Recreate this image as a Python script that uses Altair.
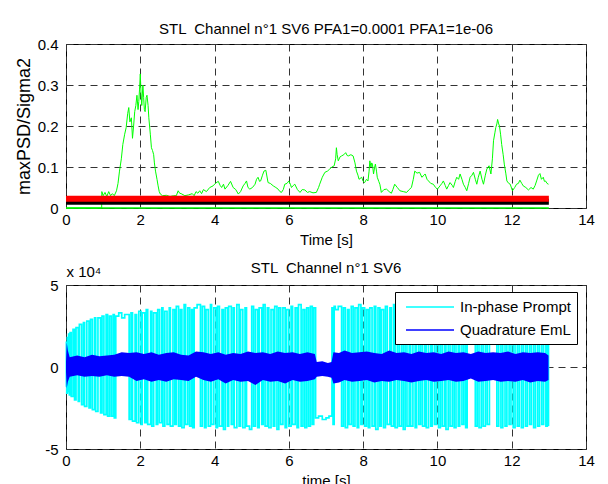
import altair as alt
import pandas as pd

FONT = "Liberation Sans"

# ---------------- top panel data ----------------
psd_pts = [
    (0, 0), (0.96, 0), (0.965, 0.04), (1.0, 0.03), (1.05, 0.038), (1.1, 0.028), (1.15, 0.04),
    (1.2, 0.03), (1.25, 0.035), (1.3, 0.03), (1.36, 0.042), (1.4, 0.06), (1.44, 0.09), (1.49, 0.12),
    (1.53, 0.155), (1.58, 0.18), (1.62, 0.196), (1.66, 0.23), (1.69, 0.245), (1.72, 0.21), (1.76, 0.22),
    (1.79, 0.17), (1.82, 0.2), (1.85, 0.235), (1.88, 0.25), (1.91, 0.275), (1.94, 0.24), (1.96, 0.26),
    (1.98, 0.29), (2.0, 0.327), (2.02, 0.28), (2.04, 0.25), (2.07, 0.30), (2.09, 0.27), (2.11, 0.24),
    (2.13, 0.235), (2.16, 0.27), (2.18, 0.275), (2.21, 0.25), (2.23, 0.22), (2.27, 0.18), (2.3, 0.147),
    (2.33, 0.14), (2.36, 0.13), (2.38, 0.11), (2.41, 0.09), (2.45, 0.07), (2.48, 0.054), (2.51, 0.04),
    (2.54, 0.034), (2.6, 0.03), (2.7, 0.031), (2.8, 0.028), (2.9, 0.03), (2.97, 0.03), (3.02, 0.042),
    (3.06, 0.036), (3.1, 0.035), (3.2, 0.03), (3.3, 0.032), (3.4, 0.035), (3.45, 0.03), (3.5, 0.04),
    (3.55, 0.036), (3.6, 0.042), (3.65, 0.035), (3.7, 0.045), (3.78, 0.04), (3.87, 0.05), (3.96, 0.054),
    (4.02, 0.06), (4.1, 0.065), (4.15, 0.055), (4.19, 0.05), (4.24, 0.058), (4.28, 0.046), (4.36, 0.055),
    (4.43, 0.065), (4.5, 0.05), (4.57, 0.045), (4.64, 0.034), (4.7, 0.04), (4.77, 0.054), (4.82, 0.06),
    (4.86, 0.066), (4.9, 0.05), (4.95, 0.046), (5.02, 0.05), (5.09, 0.058), (5.13, 0.07), (5.17, 0.075),
    (5.21, 0.065), (5.24, 0.066), (5.29, 0.08), (5.33, 0.09), (5.38, 0.092), (5.44, 0.062), (5.5, 0.06),
    (5.58, 0.054), (5.65, 0.05), (5.71, 0.046), (5.76, 0.04), (5.8, 0.038), (5.85, 0.045), (5.89, 0.058),
    (5.95, 0.06), (6.0, 0.066), (6.04, 0.058), (6.07, 0.05), (6.12, 0.055), (6.16, 0.058), (6.23, 0.045),
    (6.3, 0.038), (6.36, 0.045), (6.43, 0.044), (6.5, 0.038), (6.56, 0.04), (6.65, 0.037), (6.74, 0.038),
    (6.8, 0.05), (6.83, 0.058), (6.9, 0.075), (6.97, 0.087), (7.04, 0.09), (7.1, 0.095), (7.16, 0.1),
    (7.22, 0.103), (7.26, 0.12), (7.28, 0.147), (7.3, 0.13), (7.33, 0.115), (7.38, 0.125), (7.42, 0.127),
    (7.48, 0.13), (7.53, 0.135), (7.57, 0.128), (7.6, 0.127), (7.67, 0.13), (7.73, 0.127), (7.78, 0.11),
    (7.82, 0.09), (7.86, 0.08), (7.89, 0.07), (7.96, 0.075), (8.0, 0.065), (8.04, 0.062), (8.09, 0.07),
    (8.13, 0.066), (8.16, 0.09), (8.18, 0.115), (8.21, 0.1), (8.23, 0.11), (8.25, 0.107), (8.28, 0.083),
    (8.31, 0.1), (8.33, 0.107), (8.36, 0.09), (8.38, 0.075), (8.42, 0.065), (8.45, 0.058), (8.49, 0.038),
    (8.56, 0.045), (8.63, 0.046), (8.7, 0.04), (8.76, 0.036), (8.8, 0.045), (8.85, 0.058), (8.92, 0.05),
    (8.99, 0.042), (9.08, 0.04), (9.17, 0.038), (9.24, 0.045), (9.3, 0.05), (9.35, 0.07), (9.39, 0.09),
    (9.45, 0.085), (9.52, 0.087), (9.58, 0.075), (9.64, 0.08), (9.67, 0.083), (9.72, 0.07), (9.76, 0.066),
    (9.82, 0.06), (9.89, 0.058), (9.95, 0.05), (10.0, 0.046), (10.07, 0.054), (10.12, 0.06), (10.16, 0.066),
    (10.21, 0.055), (10.25, 0.046), (10.3, 0.055), (10.34, 0.062), (10.4, 0.055), (10.43, 0.05),
    (10.48, 0.065), (10.52, 0.075), (10.57, 0.07), (10.61, 0.083), (10.66, 0.07), (10.7, 0.058),
    (10.75, 0.05), (10.79, 0.042), (10.84, 0.06), (10.88, 0.075), (10.93, 0.08), (10.97, 0.087),
    (11.02, 0.07), (11.06, 0.058), (11.1, 0.075), (11.15, 0.09), (11.2, 0.07), (11.24, 0.058),
    (11.29, 0.08), (11.33, 0.095), (11.39, 0.103), (11.44, 0.083), (11.48, 0.12), (11.51, 0.164),
    (11.55, 0.185), (11.57, 0.196), (11.6, 0.205), (11.62, 0.216), (11.65, 0.205), (11.67, 0.2),
    (11.7, 0.18), (11.73, 0.155), (11.77, 0.13), (11.8, 0.107), (11.84, 0.085), (11.87, 0.066),
    (11.92, 0.06), (11.96, 0.058), (12.02, 0.042), (12.08, 0.05), (12.13, 0.058), (12.18, 0.06),
    (12.22, 0.068), (12.27, 0.06), (12.31, 0.054), (12.38, 0.05), (12.45, 0.044), (12.52, 0.05),
    (12.58, 0.046), (12.63, 0.055), (12.67, 0.066), (12.72, 0.08), (12.76, 0.084), (12.8, 0.07),
    (12.85, 0.075), (12.88, 0.065), (12.91, 0.066), (12.95, 0.06), (12.99, 0.058),
]
line_t = [0, 13]
thr_red = [0.0225, 0.0225]
thr_black = [0.015, 0.015]
detect_flag = [0, 0]

# ---------------- bottom panel data (units of 1e4) ----------------
inphase = [
    (0.00, -1.2), (0.01, 1.5), (0.02, -1.6), (0.035, 1.8), (0.05, -1.5), (0.07, 2.0), (0.09, -1.7), (0.11, 2.1),
    (0.14, -1.8), (0.19, 2.3), (0.23, -2.0), (0.27, 2.4), (0.33, -2.1), (0.36, 2.6), (0.42, -2.3), (0.47, 2.7),
    (0.50, -2.4), (0.56, 2.8), (0.62, -2.5), (0.66, 2.9), (0.71, -2.6), (0.77, 3.0), (0.80, -2.7), (0.86, 3.0),
    (0.93, -2.8), (0.97, 3.1), (1.02, -2.9), (1.08, 3.2), (1.12, -3.0), (1.17, 3.1), (1.22, -3.0), (1.27, 3.2),
    (1.30, -3.1), (1.34, 3.1), (1.42, 3.3), (1.5, 3.0), (1.58, 3.2),
    (1.70, -3.2), (1.75, 3.3), (1.79, -3.3), (1.86, 3.2), (1.9, -3.4), (1.96, 3.4), (2.02, -3.5), (2.05, 3.3),
    (2.12, -3.4), (2.16, 3.5), (2.2, -3.5), (2.28, 3.4), (2.31, -3.6), (2.36, 3.3), (2.43, -3.5), (2.47, 3.5),
    (2.52, -3.4), (2.58, 3.6), (2.61, -3.6), (2.66, 3.4), (2.72, -3.5), (2.78, 3.6), (2.81, -3.6), (2.88, 3.5),
    (2.93, -3.5), (2.97, 3.7), (3.03, -3.6), (3.08, 3.5), (3.12, -3.7), (3.18, 3.8), (3.22, -3.5), (3.28, 3.6),
    (3.33, -3.6), (3.38, 3.5), (3.41, -3.7), (3.45, 3.6), (3.53, 3.8),
    (3.62, -3.6), (3.67, 3.7), (3.73, -3.7), (3.77, 3.5), (3.83, -3.6), (3.89, 3.8), (3.92, -3.5), (3.98, 3.6),
    (4.04, -3.7), (4.08, 3.7), (4.13, -3.6), (4.2, 3.5), (4.24, -3.8), (4.29, 3.6), (4.35, -3.6), (4.38, 3.7),
    (4.45, -3.5), (4.5, 3.6), (4.53, -3.7), (4.6, 3.8), (4.66, -3.6), (4.7, 3.5), (4.76, -3.7), (4.82, 3.6),
    (4.86, -3.6), (4.94, -3.8),
    (5.0, 3.7), (5.05, -3.6), (5.1, 3.5), (5.16, -3.7), (5.2, 3.6), (5.27, -3.5), (5.31, 3.8), (5.36, -3.6),
    (5.42, 3.6), (5.46, -3.7), (5.52, 3.5), (5.58, -3.6), (5.62, 3.7), (5.68, -3.8), (5.73, 3.6), (5.78, -3.5),
    (5.84, 3.6), (5.9, -3.7), (5.94, 3.5), (6.0, -3.6), (6.06, 3.7), (6.1, -3.5), (6.17, 3.6), (6.22, -3.7),
    (6.26, 3.8), (6.33, -3.6), (6.38, 3.5), (6.43, -3.7), (6.48, 3.6), (6.53, -3.6), (6.58, 3.7), (6.63, -3.5),
    (6.67, 3.6),
    (6.72, -3.1), (6.8, -3.0), (6.9, -3.2), (7.0, -3.1), (7.08, -3.0),
    (7.16, 3.6), (7.19, -3.5), (7.22, 3.7), (7.25, 3.5), (7.33, 3.7),
    (7.42, -3.6), (7.47, 3.6), (7.52, -3.7), (7.58, 3.5), (7.62, -3.5), (7.68, 3.7), (7.73, -3.6), (7.78, 3.6),
    (7.84, -3.7), (7.88, 3.8), (7.94, -3.5), (7.98, 3.6), (8.04, -3.6), (8.09, 3.5), (8.14, -3.7), (8.18, 3.6),
    (8.24, -3.6), (8.3, 3.7), (8.34, -3.8), (8.4, 3.6), (8.45, -3.6), (8.49, 3.5), (8.55, -3.7), (8.6, 3.7),
    (8.65, -3.5), (8.72, 3.6), (8.76, -3.6), (8.82, 3.8), (8.86, -3.7), (8.92, 3.5), (8.97, -3.6), (9.03, 3.6),
    (9.08, -3.8), (9.13, 3.7), (9.18, -3.6), (9.24, 3.5), (9.28, -3.6), (9.34, 3.6), (9.4, -3.7), (9.44, 3.7),
    (9.5, -3.5), (9.55, 3.6), (9.6, -3.6), (9.66, 3.5), (9.7, -3.7), (9.76, 3.6), (9.82, -3.6), (9.86, 3.7),
    (9.92, -3.5), (9.97, 3.6), (10.03, -3.7), (10.08, 3.5), (10.13, -3.6), (10.19, 3.7), (10.23, -3.8),
    (10.29, 3.6), (10.34, -3.6), (10.4, 3.5), (10.45, -3.7), (10.5, 3.6), (10.56, -3.6), (10.6, 3.7),
    (10.66, -3.5), (10.71, 3.6), (10.76, -3.7),
    (10.8, 3.6), (10.9, 3.4),
    (11.02, -3.6), (11.07, 3.5), (11.12, -3.7), (11.18, 3.6), (11.23, -3.6), (11.29, 3.7), (11.34, -3.5),
    (11.4, 3.6), (11.5, 3.5),
    (11.6, -3.6), (11.65, 3.6), (11.71, -3.7), (11.76, 3.5), (11.82, -3.6), (11.87, 3.7), (11.93, -3.5),
    (11.98, 3.6), (12.04, -3.7), (12.09, 3.6), (12.15, -3.6), (12.2, 3.5), (12.26, -3.7), (12.31, 3.6),
    (12.37, -3.6), (12.42, 3.7), (12.48, -3.5), (12.53, 3.6), (12.59, -3.7), (12.64, 3.5), (12.7, -3.6),
    (12.75, 3.6), (12.81, -3.5), (12.86, 3.7), (12.92, -3.6), (12.96, 3.5), (12.99, -3.6),
]
quadrature = [  # (t, upper edge, lower edge)
    (0.00, 0.3, -0.3), (0.02, 1.5, -1.3), (0.05, 1.0, -0.9), (0.1, 0.6, -0.6), (0.3, 0.7, -0.5),
    (0.5, 0.6, -0.6), (0.7, 0.75, -0.55), (0.9, 0.65, -0.6), (1.1, 0.7, -0.5), (1.3, 0.75, -0.6),
    (1.5, 0.9, -0.55), (1.7, 0.85, -0.6), (1.9, 0.9, -0.85), (2.1, 0.8, -0.75), (2.3, 0.9, -0.9),
    (2.5, 0.75, -0.8), (2.7, 0.85, -0.9), (2.9, 0.9, -0.75), (3.1, 0.75, -0.8), (3.3, 0.7, -0.85),
    (3.5, 0.95, -0.6), (3.7, 0.9, -0.8), (3.9, 0.8, -0.9), (4.1, 0.9, -0.75), (4.3, 0.75, -1.0),
    (4.5, 0.85, -0.8), (4.7, 0.8, -0.9), (4.9, 0.95, -0.85), (5.1, 0.85, -1.1), (5.3, 0.9, -0.8),
    (5.5, 0.8, -0.9), (5.7, 0.95, -0.85), (5.9, 0.85, -1.0), (6.1, 0.9, -0.8), (6.3, 0.8, -0.9),
    (6.5, 0.9, -0.85), (6.7, 0.8, -0.75), (6.75, 0.3, -0.6), (6.9, 0.35, -0.55), (7.05, 0.25, -0.6),
    (7.15, 0.3, -0.65), (7.2, 0.9, -1.0), (7.35, 0.85, -0.95), (7.5, 1.0, -0.8), (7.7, 0.85, -0.9),
    (7.9, 0.9, -0.85), (8.1, 0.95, -0.8), (8.3, 0.85, -0.95), (8.5, 0.8, -0.85), (8.7, 1.0, -0.9),
    (8.9, 0.85, -0.8), (9.1, 0.9, -0.85), (9.3, 0.8, -0.95), (9.5, 0.95, -0.85), (9.7, 0.85, -0.8),
    (9.9, 0.9, -0.9), (10.1, 0.8, -0.85), (10.3, 0.95, -0.8), (10.5, 0.85, -0.9), (10.7, 0.9, -0.85),
    (10.9, 0.8, -0.7), (11.1, 0.95, -0.9), (11.3, 0.85, -0.85), (11.5, 0.9, -0.8), (11.7, 0.85, -0.9),
    (11.9, 0.95, -0.85), (12.1, 0.8, -0.9), (12.3, 0.9, -0.8), (12.5, 0.85, -0.95), (12.7, 0.9, -0.85),
    (12.9, 0.85, -0.9), (12.99, 0.7, -0.8),
]
series_names = ["In-phase Prompt", "Quadrature EmL"]
series_colors = ["#00ffff", "#0000ff"]

x_ticks = [0, 2, 4, 6, 8, 10, 12, 14]
top_y_ticks = [0, 0.1, 0.2, 0.3, 0.4]
bot_y_ticks = [-5, 0, 5]

W, H = 520, 164
GRID = dict(grid=True, gridDash=[7, 5], gridColor="#333333", gridWidth=1)


def x_enc(title):
    return alt.X("t:Q", scale=alt.Scale(domain=[0, 14], nice=False, zero=False),
                 axis=alt.Axis(values=x_ticks, title=title, tickSize=0, domain=False,
                               labelPadding=4, titlePadding=5, labelFlush=False,
                               labelOverlap=False, **GRID))


# ---------------- top panel ----------------
psd_df = pd.DataFrame(psd_pts, columns=["t", "v"])
red_df = pd.DataFrame({"t": line_t, "v": thr_red})
blk_df = pd.DataFrame({"t": line_t, "v": thr_black})
flag_df = pd.DataFrame({"t": line_t, "v": detect_flag})

y_top = alt.Y("v:Q", scale=alt.Scale(domain=[0, 0.4], nice=False),
              axis=alt.Axis(values=top_y_ticks, title="maxPSD/Sigma2", titleFontSize=18,
                            tickSize=0, domain=False, labelPadding=8, titlePadding=4,
                            labelExpr="'' + datum.value", labelFlush=False, **GRID))
xt = x_enc("Time [s]")

top = alt.layer(
    alt.Chart(psd_df).mark_line(color="#00ff00", strokeWidth=1).encode(x=xt, y=y_top),
    alt.Chart(flag_df).mark_line(color="#00ff00", strokeWidth=1.5).encode(x=xt, y=y_top),
    alt.Chart(blk_df).mark_line(color="#000000", strokeWidth=6).encode(x=xt, y=y_top),
    alt.Chart(red_df).mark_line(color="#ff0000", strokeWidth=6).encode(x=xt, y=y_top),
).properties(width=W, height=H,
             title=alt.TitleParams("STL \u00a0Channel n°1 SV6 PFA1=0.0001 PFA1=1e-06", offset=0))

# ---------------- bottom panel ----------------
ip_df = pd.DataFrame(inphase, columns=["t", "v"])
ip_df["series"] = series_names[0]
q_df = pd.DataFrame(quadrature, columns=["t", "hi", "lo"])

y_axis_bot = alt.Axis(values=bot_y_ticks, title="x 10⁴", titleAngle=0, titleAlign="left",
                      titleBaseline="alphabetic", titleX=0, titleY=-9, tickSize=0, domain=False,
                      labelPadding=8, labelExpr="'' + datum.value", labelFlush=False, **GRID)
y_scale_bot = alt.Scale(domain=[-5, 5], nice=False)
xb = x_enc("time [s]")

legend = alt.Legend(title=None, orient="none", legendX=329, legendY=7, fillColor="white",
                    strokeColor="black", padding=6, symbolType="M-3,0H3", symbolSize=256,
                    symbolStrokeWidth=1.5, symbolOffset=20, labelFontSize=15, labelFont=FONT,
                    labelColor="black", labelOffset=21, rowPadding=6, cornerRadius=0)

bottom = alt.layer(
    alt.Chart(ip_df).mark_line(interpolate="step-after", strokeWidth=1.7).encode(
        x=xb,
        y=alt.Y("v:Q", scale=y_scale_bot, axis=y_axis_bot),
        color=alt.Color("series:N", scale=alt.Scale(domain=series_names, range=series_colors),
                        legend=legend),
    ),
    alt.Chart(q_df).mark_area(color="#0000ff", opacity=1).encode(
        x=xb,
        y=alt.Y("hi:Q", scale=y_scale_bot, axis=y_axis_bot),
        y2="lo:Q",
    ),
).properties(width=W, height=H, title=alt.TitleParams("STL \u00a0Channel n°1 SV6", offset=-12))

chart = alt.vconcat(top, bottom, spacing=12).resolve_legend(color="independent").properties(
    padding={"left": 14, "top": 21, "right": 5, "bottom": 0},
    background="white",
).configure_view(stroke="black", strokeWidth=1).configure_axis(
    labelFont=FONT, labelFontSize=15, labelColor="black",
    titleFont=FONT, titleFontSize=15, titleFontWeight="normal", titleColor="black",
).configure_title(font=FONT, fontSize=15, fontWeight="normal", color="black",
                  anchor="middle")

chart.save("out.html", embed_options={"renderer": "svg", "actions": False})
